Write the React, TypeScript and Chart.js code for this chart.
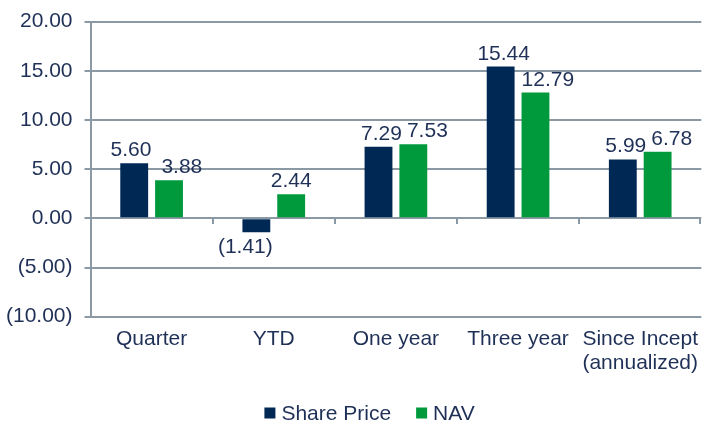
import React, { useEffect, useRef } from "react";
import { Chart, registerables } from "chart.js";

Chart.register(...registerables);

const categories: (string | string[])[] = ["Quarter", "YTD", "One year", "Three year", ["Since Incept", "(annualized)"]];
const seriesNames = ["Share Price", "NAV"];
const sharePrice = [5.6, -1.41, 7.29, 15.44, 5.99];
const nav = [3.88, 2.44, 7.53, 12.79, 6.78];
const yMin = -10;
const yMax = 20;
const yStep = 5;

const TEXT = "#1f3057";
const GRID = "#8a99a3";
const COLORS = ["#002855", "#009a3d"];
const FONT = "'Liberation Sans', Arial, sans-serif";
const FS = 21;

const fmt = (v: number) => (v < 0 ? `(${Math.abs(v).toFixed(2)})` : v.toFixed(2));

const labelPlugin = {
  id: "valueLabels",
  afterDatasetsDraw(chart: any) {
    const ctx = chart.ctx;
    const y = chart.scales.y;
    const x = chart.scales.x;
    ctx.save();
    // category tick marks on the zero line
    ctx.strokeStyle = GRID;
    ctx.lineWidth = 2;
    const zero = Math.round(y.getPixelForValue(0));
    const n = categories.length;
    for (let i = 1; i <= n; i++) {
      const bx = i < n ? (x.getPixelForTick(i - 1) + x.getPixelForTick(i)) / 2 : chart.chartArea.right - 1;
      ctx.beginPath();
      ctx.moveTo(Math.round(bx), zero);
      ctx.lineTo(Math.round(bx), zero + 6);
      ctx.stroke();
    }
    ctx.font = `${FS}px ${FONT}`;
    ctx.fillStyle = TEXT;
    ctx.textAlign = "center";
    const m0 = chart.getDatasetMeta(0);
    const m1 = chart.getDatasetMeta(1);
    for (let i = 0; i < n; i++) {
      const b0 = m0.data[i] as any;
      const b1 = m1.data[i] as any;
      const v0 = sharePrice[i];
      const v1 = nav[i];
      const t0 = fmt(v0);
      const t1 = fmt(v1);
      const w0 = ctx.measureText(t0).width;
      const w1 = ctx.measureText(t1).width;
      let c0 = b0.x;
      let c1 = b1.x;
      const top0 = v0 >= 0 ? b0.y - 7 - 16 : b0.base + 8;
      const top1 = v1 >= 0 ? b1.y - 7 - 16 : b1.base + 8;
      const gap = 7;
      const shareBarTop = Math.min(b0.y, b0.base);
      const shareBarRight = b0.x + b0.width / 2;
      if (v1 >= 0 && top1 + 16 > shareBarTop - 2 && c1 - w1 / 2 < shareBarRight + gap) {
        c1 = shareBarRight + gap + w1 / 2;
        c0 += 3;
      }
      if (v0 >= 0 && v1 >= 0 && Math.abs(top0 - top1) < 18) {
        if (v1 >= v0) {
          c0 += 3;
          c1 = Math.max(c1, c0 + (w0 + w1) / 2 + 5);
        } else {
          const need = (w0 + w1) / 2 + 10;
          const d = c1 - c0;
          if (d < need) {
            const def = need - d;
            c0 -= def / 2;
            c1 += def / 2;
          }
        }
      }
      ctx.textBaseline = "alphabetic";
      if (v0 >= 0) ctx.fillText(t0, c0, b0.y - 7);
      else {
        ctx.textBaseline = "top";
        ctx.fillText(t0, c0 - 11, b0.y + 4);
      }
      ctx.textBaseline = "alphabetic";
      if (v1 >= 0) ctx.fillText(t1, c1, b1.y - 7);
      else {
        ctx.textBaseline = "top";
        ctx.fillText(t1, c1, b1.y + 4);
      }
    }
    // legend
    const box = 11;
    const boxGap = 6;
    const itemGap = 25;
    const widths = seriesNames.map((s) => ctx.measureText(s).width);
    const total = widths.reduce((a, w) => a + box + boxGap + w, 0) + itemGap * (seriesNames.length - 1);
    let lx = chart.width * 0.522 - total / 2;
    const ly = chart.height - 8;
    ctx.textAlign = "left";
    ctx.textBaseline = "middle";
    seriesNames.forEach((s, k) => {
      ctx.fillStyle = COLORS[k];
      ctx.fillRect(lx, ly - box / 2, box, box);
      lx += box + boxGap;
      ctx.fillStyle = TEXT;
      ctx.fillText(s, lx, ly + 1);
      lx += widths[k] + itemGap;
    });
    ctx.restore();
  },
};

export default function App() {
  const ref = useRef<HTMLCanvasElement | null>(null);
  useEffect(() => {
    if (!ref.current) return;
    const chart = new Chart(ref.current, {
      type: "bar",
      data: {
        labels: categories,
        datasets: [
          { label: seriesNames[0], data: sharePrice, backgroundColor: COLORS[0], barPercentage: 0.8, categoryPercentage: 0.57 },
          { label: seriesNames[1], data: nav, backgroundColor: COLORS[1], barPercentage: 0.8, categoryPercentage: 0.57 },
        ],
      },
      options: {
        animation: false,
        responsive: true,
        maintainAspectRatio: false,
        layout: { padding: { left: -6, right: 0, top: 5, bottom: 36 } },
        plugins: {
          tooltip: { enabled: false },
          legend: { display: false },
        },
        scales: {
          x: {
            grid: { display: false, drawTicks: false },
            border: { display: false },
            ticks: {
              color: TEXT,
              font: { family: FONT, size: FS, lineHeight: 1.15 },
              padding: 10,
              maxRotation: 0,
              autoSkip: false,
            },
          },
          y: {
            min: yMin,
            max: yMax,
            grid: { color: GRID, lineWidth: 2, tickLength: 6, drawTicks: true },
            border: { display: true, color: GRID, width: 2 },
            ticks: {
              stepSize: yStep,
              color: TEXT,
              font: { family: FONT, size: FS, lineHeight: 0.92 },
              padding: 12,
              callback: (v: any) => fmt(Number(v)),
            },
          },
        },
      },
      plugins: [labelPlugin],
    });
    return () => chart.destroy();
  }, []);
  return (
    <div style={{ position: "fixed", left: 0, top: 0, width: 708, height: 421 }}>
      <canvas ref={ref} />
    </div>
  );
}
